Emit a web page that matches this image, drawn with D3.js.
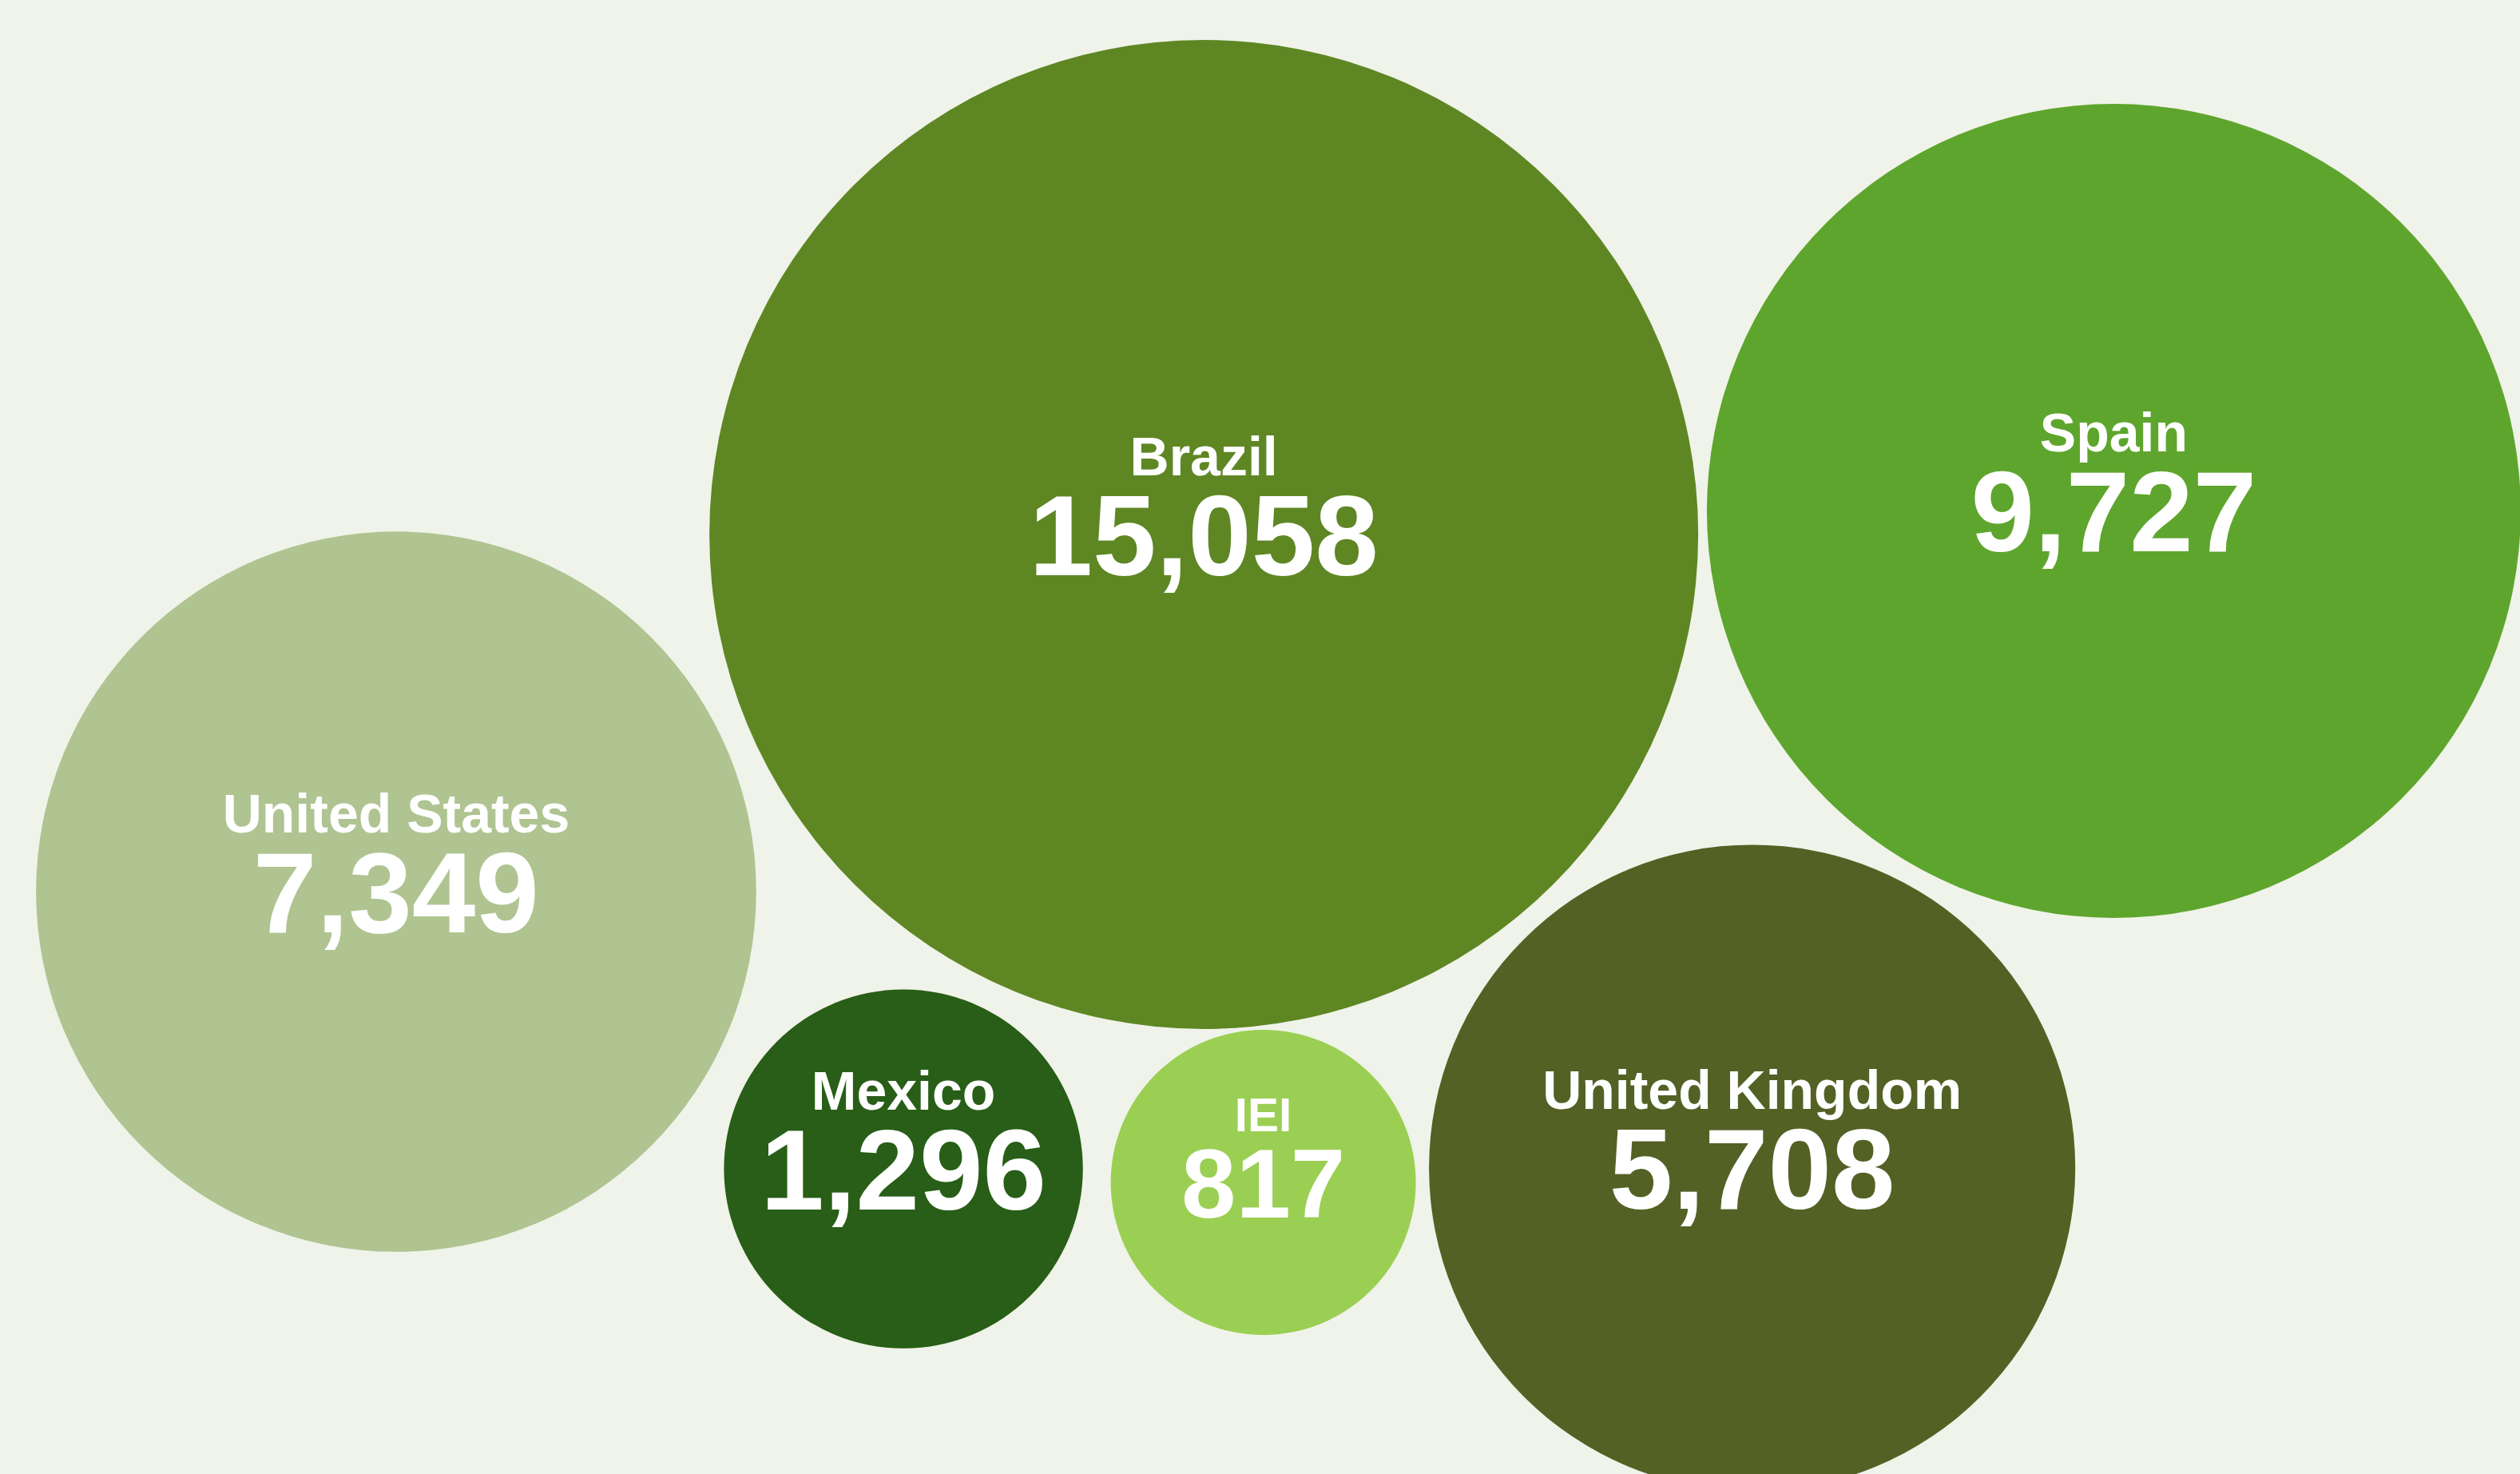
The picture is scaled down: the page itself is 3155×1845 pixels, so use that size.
<!DOCTYPE html>
<html>
<head>
<meta charset="utf-8">
<script src="https://cdn.jsdelivr.net/npm/d3@7"></script>
<style>
  html, body { margin: 0; padding: 0; background: #f0f3e9; }
  svg { display: block; }
</style>
</head>
<body>
<svg id="chart"></svg>
<script>
// ---- data ----
const countries = ["Brazil", "Spain", "United States", "Mexico", "IEI", "United Kingdom"];
const values    = [15058, 9727, 7349, 1296, 817, 5708];

// ---- styles / layout (not data) ----
const palette = ["#5e8724", "#5ea52d", "#afc491", "#285e17", "#9acf53", "#536125"];
// bubble anchor positions, as fractions of the drawing area
const anchorX = [0.4777, 0.8388, 0.1572, 0.3585, 0.5013, 0.6953];
const anchorY = [0.3626, 0.3466, 0.6049, 0.7930, 0.8022, 0.7924];

const W = 3155, H = 1845;
const svg = d3.select("#chart").attr("width", W).attr("height", H);
svg.append("rect").attr("width", W).attr("height", H).attr("fill", "#f0f3e9");

const x = d3.scaleLinear().domain([0, 1]).range([0, W]);
const y = d3.scaleLinear().domain([0, 1]).range([0, H]);
const r = d3.scaleSqrt().domain([0, d3.max(values)]).range([61, 619]);
const color = d3.scaleOrdinal().domain(countries).range(palette);
const fmt = d3.format(",");

const data = countries.map((c, i) => ({ name: c, value: values[i], ax: anchorX[i], ay: anchorY[i] }));

const g = svg.selectAll("g.bubble").data(data).join("g")
  .attr("class", "bubble")
  .attr("transform", d => `translate(${x(d.ax)},${y(d.ay)})`);

g.append("circle")
  .attr("r", d => r(d.value))
  .attr("fill", d => color(d.name));

const k = d => Math.min(1, r(d.value) / 222);

g.append("text")
  .attr("text-anchor", "middle")
  .attr("y", d => -74 * k(d))
  .attr("fill", "#ffffff")
  .style("font-family", "'Liberation Sans', Arial, Helvetica, sans-serif")
  .style("font-weight", "bold")
  .style("font-size", d => (68 * k(d)) + "px")
  .text(d => d.name);

g.append("text")
  .attr("text-anchor", "middle")
  .attr("y", d => 51 * k(d))
  .attr("fill", "#ffffff")
  .style("font-family", "'Liberation Sans', Arial, Helvetica, sans-serif")
  .style("font-weight", "bold")
  .style("font-size", d => (143 * k(d)) + "px")
  .text(d => fmt(d.value));
</script>
</body>
</html>
